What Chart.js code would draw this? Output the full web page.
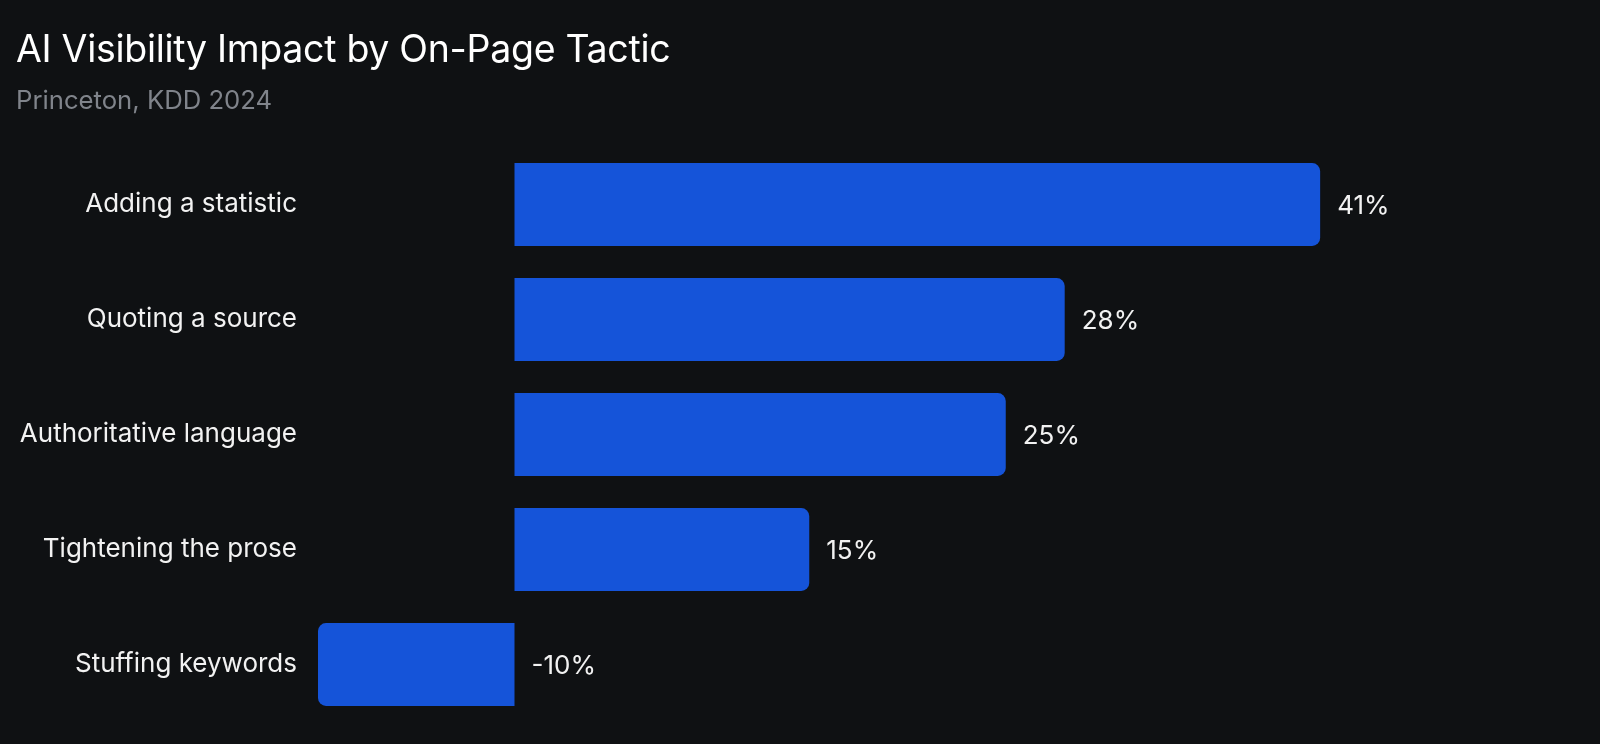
<!DOCTYPE html>
<html lang="en">
<head>
  <meta charset="UTF-8">
  <title>AI Visibility Impact by On-Page Tactic</title>
  <script src="https://cdn.jsdelivr.net/npm/chart.js"></script>
  <style>
    html, body { margin: 0; padding: 0; background: #0f1113; }
    .wrap { position: relative; width: 1600px; height: 744px; }
    .title { position: absolute; left: 16px; top: 26px; font: 400 37.5px Inter, sans-serif; color: #ffffff; letter-spacing: -0.3px; }
    .subtitle { position: absolute; left: 16px; top: 84px; font: 400 25.7px Inter, sans-serif; color: #80848b; }
    canvas { position: absolute; left: 0; top: 0; }
  </style>
</head>
<body>
  <div class="wrap">
    <canvas id="chart" width="1600" height="744"></canvas>
    <div class="title">AI Visibility Impact by On-Page Tactic</div>
    <div class="subtitle">Princeton, KDD 2024</div>
  </div>
  <script>
    const tactics = ['Adding a statistic', 'Quoting a source', 'Authoritative language', 'Tightening the prose', 'Stuffing keywords'];
    const impact = [41, 28, 25, 15, -10];

    // value labels just past the outer end (or past zero for negative bars)
    const valueLabels = {
      id: 'valueLabels',
      afterDatasetsDraw(chart) {
        const ctx = chart.ctx;
        const meta = chart.getDatasetMeta(0);
        ctx.save();
        ctx.font = '400 26px Inter, sans-serif';
        ctx.fillStyle = '#f2f2f2';
        ctx.textAlign = 'left';
        ctx.textBaseline = 'middle';
        meta.data.forEach((bar, i) => {
          const x = Math.max(bar.x, bar.base) + 17;
          ctx.fillText(impact[i] + '%', x, bar.y + 2);
        });
        ctx.restore();
      }
    };

    new Chart(document.getElementById('chart'), {
      type: 'bar',
      data: {
        labels: tactics,
        datasets: [{
          data: impact,
          backgroundColor: '#1554d9',
          borderRadius: 8,
          borderSkipped: 'start',
          barPercentage: 0.72,
          categoryPercentage: 1
        }]
      },
      options: {
        indexAxis: 'y',
        responsive: false,
        animation: false,
        layout: { padding: { top: 147, bottom: 22, left: 0, right: 103 } },
        plugins: { legend: { display: false }, tooltip: { enabled: false } },
        scales: {
          x: { min: -10, max: 50, display: false },
          y: {
            grid: { display: false },
            border: { display: false },
            ticks: { color: '#f2f2f2', font: { family: 'Inter', size: 26 }, padding: 13 },
            afterFit(scale) {
              scale.width = 318;
              scale.paddingTop = 0;
              scale.paddingBottom = 0;
            }
          }
        }
      },
      plugins: [valueLabels]
    });
  </script>
</body>
</html>
